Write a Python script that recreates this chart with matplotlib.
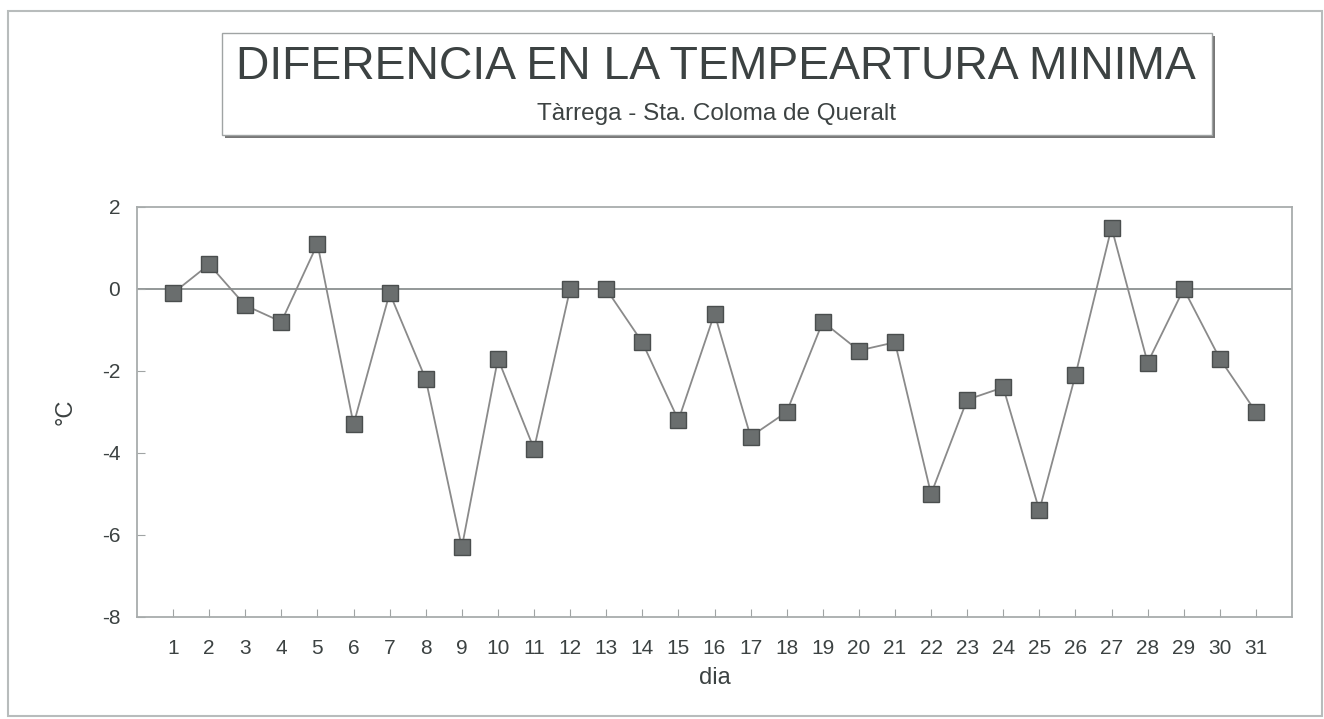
import numpy as np
import matplotlib.pyplot as plt
from matplotlib.patches import Rectangle

dias = list(range(1, 32))
diferencia = [-0.1, 0.6, -0.4, -0.8, 1.1, -3.3, -0.1, -2.2, -6.3, -1.7,
              -3.9, 0.0, 0.0, -1.3, -3.2, -0.6, -3.6, -3.0, -0.8, -1.5,
              -1.3, -5.0, -2.7, -2.4, -5.4, -2.1, 1.5, -1.8, 0.0, -1.7, -3.0]
y_ticks = [2, 0, -2, -4, -6, -8]

plt.rcParams['font.family'] = ['Liberation Sans', 'DejaVu Sans']
plt.rcParams['axes.unicode_minus'] = False
W, H = 1324, 719
fig = plt.figure(figsize=(W/100, H/100), dpi=100)

# marco exterior
fig.patches.append(Rectangle((8/W, 1-716/H), 1314/W, 705/H, transform=fig.transFigure,
                             fill=False, edgecolor='#b8bcbc', lw=1.5))

# caja del titulo con sombra
fig.patches.append(Rectangle((225/W, 1-138/H), 990/W, 102/H, transform=fig.transFigure,
                             facecolor='#777777', edgecolor='none', hatch='....', lw=0))
fig.patches.append(Rectangle((222/W, 1-135/H), 990/W, 102/H, transform=fig.transFigure,
                             facecolor='white', edgecolor='#a0a4a4', lw=1))
fig.text(716/W, 1-67/H, "DIFERENCIA EN LA TEMPEARTURA MINIMA", ha='center', va='center',
         fontsize=33.4, color='#3c4242')
fig.text(716/W, 1-114/H, "Tàrrega - Sta. Coloma de Queralt", ha='center', va='center',
         fontsize=17.5, color='#3c4242')

ax = fig.add_axes([137/W, 1-617/H, (1292-137)/W, (617-207)/H])
ax.axhline(0, color='#8a9090', lw=1.3, zorder=1)
ax.plot(dias, diferencia, color='#8a8a8a', lw=1.3, marker='s', markersize=11.5,
        markerfacecolor='#6a6e6e', markeredgecolor='#4a4e4e', markeredgewidth=1, zorder=3)

ax.set_xlim(0, 32)
ax.set_ylim(-8, 2)
ax.set_xticks(dias)
ax.set_yticks(y_ticks)
ax.tick_params(axis='both', direction='in', colors='#a0a4a4', labelcolor='#3c4242',
               labelsize=15, length=6)
ax.tick_params(axis='x', pad=16)
ax.tick_params(axis='y', pad=12)
for s in ax.spines.values():
    s.set_color('#a8acac')
    s.set_linewidth(1.3)
ax.set_xlabel('dia', fontsize=17, color='#3c4242', labelpad=6)
ax.set_ylabel('°C', fontsize=17, color='#3c4242', labelpad=18)

plt.savefig('out.png', dpi=100)
